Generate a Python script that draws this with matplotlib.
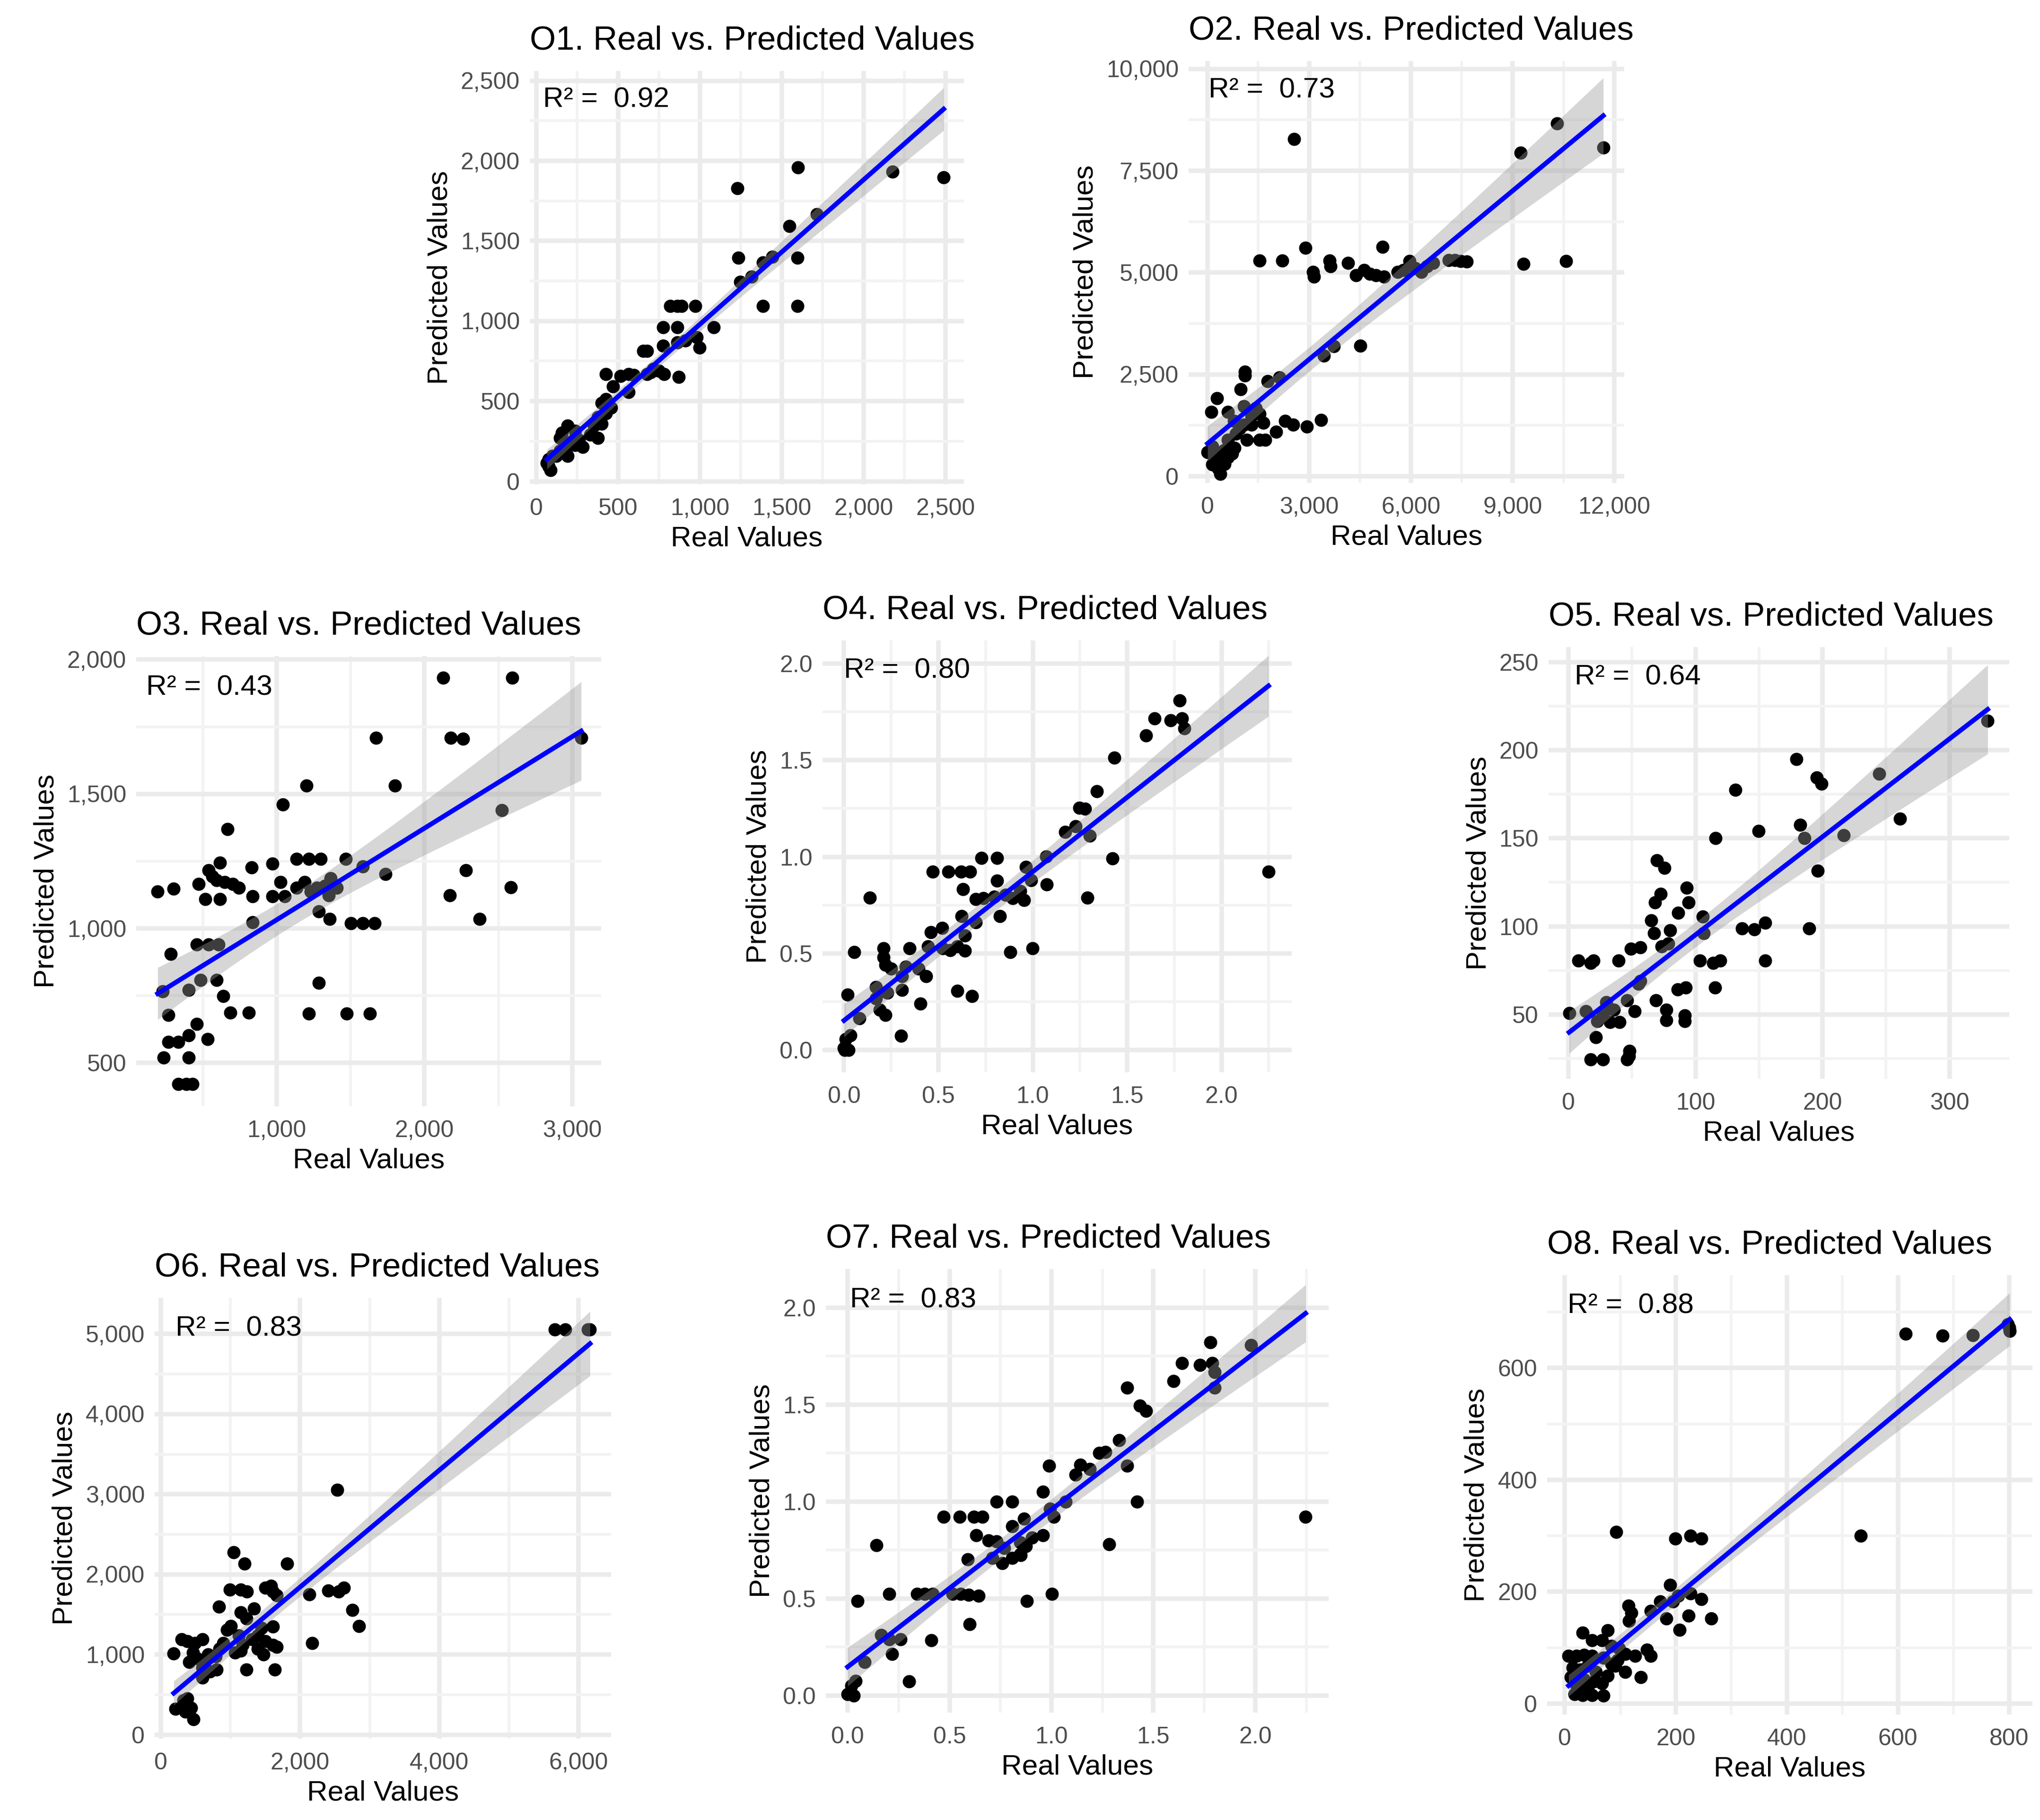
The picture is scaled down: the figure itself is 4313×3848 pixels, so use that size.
import numpy as np
import matplotlib.pyplot as plt
from matplotlib.ticker import FixedLocator, FuncFormatter, MultipleLocator

plt.rcParams['font.family'] = ['Liberation Sans', 'DejaVu Sans']

# ---- data (real, predicted) ----
o1_real = [1600, 1229, 2178, 2489, 1713, 1546, 1234, 1597, 1384, 1442, 1245, 1315, 1384, 1597, 817, 863, 887,
           972, 776, 863, 1083, 776, 863, 910, 979, 998, 655, 678, 782, 870, 424, 516, 563, 597, 678, 701, 748,
           713, 470, 563, 424, 400, 458, 424, 377, 400, 354, 192, 238, 157, 146, 262, 331, 377, 180, 238, 215,
           146, 123, 192, 180, 76, 65, 76, 88, 100, 238, 285]
o1_pred = [1958, 1829, 1933, 1896, 1668, 1593, 1394, 1394, 1365, 1402, 1243, 1276, 1095, 1095, 1095, 1095, 1095,
           1095, 960, 960, 960, 845, 867, 878, 900, 834, 812, 812, 668, 652, 668, 657, 668, 664, 668, 680, 690,
           700, 591, 557, 513, 490, 458, 425, 400, 358, 347, 347, 314, 303, 270, 259, 292, 270, 203, 226, 248,
           192, 159, 159, 181, 137, 115, 93, 71, 159, 270, 215]

o2_real = [2558, 10314, 9233, 11674, 2895, 5163, 1535, 2209, 3605, 3628, 4151, 3105, 3140, 4384, 4616, 4791,
           4965, 5198, 5605, 5779, 5954, 6128, 6302, 6477, 6651, 7116, 7291, 7465, 7640, 9326, 10570, 4512, 3721,
           3430, 1105, 1105, 977, 1767, 2116, 279, 116, 605, 1070, 1419, 1535, 1651, 1070, 1302, 2291, 2523,
           2930, 3349, 2023, 1535, 1709, 1163, 0, 663, 605, 372, 140, 314, 372, 256, 488, 721, 837, 954, 1302,
           779, 140, 198, 330, 500, 600, 800]
o2_pred = [8277, 8661, 7938, 8072, 5607, 5634, 5295, 5295, 5295, 5152, 5241, 5018, 4902, 4929, 5063, 4973,
           4929, 4902, 5018, 5063, 5286, 5107, 5018, 5152, 5241, 5304, 5304, 5286, 5268, 5214, 5286, 3205, 3188,
           2964, 2563, 2473, 2143, 2339, 2429, 1911, 1580, 1580, 1714, 1670, 1536, 1313, 1268, 1268, 1357, 1268,
           1223, 1384, 1089, 893, 893, 893, 598, 714, 464, 375, 286, 196, 62, 554, 643, 554, 1045, 1179, 1491,
           1357, 732, 420, 480, 300, 900, 700]

o3_real = [2125, 2593, 3060, 1672, 2179, 2260, 1203, 1800, 1041, 2523, 669, 615, 973, 1136, 1217, 1298, 1466,
           832, 1583, 1737, 2279, 539, 566, 593, 647, 702, 743, 195, 304, 472, 518, 615, 837, 973, 1027, 1054,
           1136, 1190, 1230, 1271, 1325, 1366, 1352, 1407, 2585, 2171, 1285, 1358, 837, 1501, 1583, 1664, 2374,
           282, 458, 539, 607, 485, 593, 404, 228, 1285, 640, 688, 810, 1217, 1474, 1629, 268, 458, 404, 268,
           336, 534, 236, 404, 336, 390, 431]
o3_pred = [1932, 1932, 1708, 1708, 1708, 1705, 1532, 1532, 1461, 1440, 1370, 1244, 1241, 1259, 1259, 1259, 1259,
           1227, 1230, 1202, 1216, 1216, 1194, 1180, 1173, 1166, 1152, 1137, 1147, 1166, 1109, 1109, 1120, 1120,
           1173, 1120, 1152, 1173, 1137, 1152, 1159, 1187, 1123, 1152, 1154, 1123, 1063, 1035, 1023, 1020, 1020,
           1020, 1035, 905, 941, 941, 941, 809, 809, 771, 767, 798, 748, 688, 688, 684, 684, 684, 678, 645, 603,
           578, 578, 588, 520, 520, 422, 422, 422]

o4_real = [1.779, 1.644, 1.730, 1.791, 1.804, 1.599, 1.433, 1.339, 1.247, 1.276, 1.172, 1.227, 1.301, 1.423,
           1.071, 2.249, 1.290, 0.728, 0.810, 0.470, 0.552, 0.620, 0.669, 0.963, 0.810, 0.630, 0.992, 1.074,
           0.137, 0.699, 0.738, 0.796, 0.855, 0.894, 0.953, 0.933, 0.826, 0.624, 0.640, 0.699, 0.519, 0.460,
           0.444, 0.346, 0.523, 0.562, 0.601, 0.640, 0.881, 0.998, 0.053, 0.209, 0.209, 0.219, 0.249, 0.327,
           0.395, 0.434, 0.307, 0.170, 0.229, 0.307, 0.601, 0.679, 0.018, 0.405, 0.190, 0.219, 0.082, 0.301,
           0.033, 0.010, 0.0, 0.023, 0.004, 0.170]
o4_pred = [1.809, 1.717, 1.707, 1.717, 1.665, 1.627, 1.512, 1.340, 1.254, 1.248, 1.129, 1.158, 1.110, 0.991,
           1.001, 0.924, 0.789, 0.995, 0.995, 0.924, 0.924, 0.924, 0.924, 0.947, 0.877, 0.833, 0.880, 0.857,
           0.789, 0.781, 0.785, 0.794, 0.804, 0.785, 0.775, 0.823, 0.693, 0.693, 0.593, 0.660, 0.632, 0.609,
           0.536, 0.526, 0.526, 0.517, 0.536, 0.513, 0.507, 0.526, 0.507, 0.526, 0.479, 0.440, 0.421, 0.431,
           0.421, 0.383, 0.383, 0.325, 0.297, 0.310, 0.306, 0.278, 0.287, 0.239, 0.207, 0.182, 0.163, 0.073,
           0.077, 0.057, 0.010, 0.0, 0.0, 0.268]

o5_real = [330, 179.4, 195.6, 199.1, 131.5, 244.7, 260.9, 182.3, 185.9, 149.7, 115.9, 216.8, 196.2, 69.7, 75.6,
           93.2, 94.7, 72.6, 68.2, 86.5, 65.3, 67.6, 80.0, 105.9, 106.5, 189.4, 136.5, 146.2, 155.0, 49.1, 56.5,
           73.5, 78.5, 7.9, 17.6, 19.7, 39.4, 103.5, 113.8, 119.7, 155.0, 85.9, 92.3, 115.3, 55.0, 56.5, 68.8,
           77.1, 77.1, 91.8, 91.8, 46.2, 52.1, 0.6, 13.8, 27.1, 30.0, 35.9, 22.6, 32.9, 40.3, 21.8, 17.6, 27.1,
           46.2, 48.2, 47.6]
o5_pred = [216.7, 195.0, 184.4, 181.0, 177.6, 186.5, 161.2, 157.6, 150.2, 154.0, 150.2, 151.7, 131.7, 137.5,
           133.2, 122.0, 113.7, 118.4, 113.7, 107.7, 103.5, 96.1, 97.6, 105.6, 96.1, 98.8, 98.8, 98.2, 102.0,
           87.2, 88.0, 88.6, 90.1, 80.6, 79.1, 80.6, 80.6, 80.6, 79.1, 80.6, 80.6, 64.2, 65.3, 65.3, 67.4, 68.9,
           57.9, 52.5, 46.8, 49.4, 46.2, 57.9, 51.9, 50.8, 51.9, 50.4, 56.8, 52.5, 46.2, 45.5, 45.5, 37.0, 24.3,
           24.3, 24.3, 29.2, 26.4]

o6_real = [5660, 5808, 6137, 6164, 2534, 1047, 1201, 1815, 992, 1146, 1239, 1503, 1613, 1585, 1667, 2133, 2407,
           2556, 2627, 2753, 2846, 2172, 834, 1146, 1338, 1228, 1009, 954, 1448, 1613, 1393, 1311, 1503, 1667,
           1612, 1475, 1393, 1146, 1119, 899, 845, 790, 680, 625, 598, 488, 296, 378, 186, 461, 515, 406, 598,
           801, 1228, 1640, 598, 707, 214, 324, 378, 433, 351, 472, 1064, 1174]
o6_pred = [5057, 5057, 5057, 5057, 3057, 2276, 2133, 2133, 1810, 1810, 1786, 1833, 1786, 1857, 1738, 1748, 1795,
           1786, 1833, 1557, 1357, 1143, 1595, 1524, 1571, 1452, 1357, 1309, 1333, 1348, 1238, 1190, 1167, 1095,
           1119, 1000, 1071, 1048, 1238, 1143, 1071, 976, 1000, 929, 1190, 1143, 1190, 1167, 1014, 1024, 952, 905,
           833, 810, 810, 810, 714, 786, 319, 429, 452, 333, 286, 190, 1024, 1119]

o7_real = [1.780, 1.979, 1.640, 1.728, 1.790, 1.800, 1.800, 1.599, 1.372, 1.434, 1.465, 1.333, 1.235, 1.265,
           1.119, 1.142, 1.187, 1.372, 0.988, 0.959, 1.420, 1.070, 2.247, 1.284, 0.730, 0.807, 0.471, 0.549,
           0.619, 0.661, 1.012, 0.992, 0.866, 0.807, 0.632, 0.959, 0.905, 0.142, 0.691, 0.730, 0.846, 0.875,
           0.768, 0.846, 0.589, 0.710, 0.759, 0.807, 0.850, 0.204, 0.340, 0.379, 0.418, 0.516, 0.554, 0.593,
           0.642, 1.002, 0.049, 0.879, 0.599, 0.165, 0.204, 0.259, 0.410, 0.218, 0.084, 0.302, 0.039, 0.019,
           0.0, 0.029]
o7_pred = [1.822, 1.808, 1.714, 1.706, 1.714, 1.669, 1.587, 1.622, 1.587, 1.495, 1.469, 1.316, 1.250, 1.256,
           1.138, 1.189, 1.169, 1.185, 1.185, 1.050, 0.999, 0.999, 0.923, 0.780, 0.999, 0.999, 0.923, 0.923,
           0.923, 0.923, 0.923, 0.964, 0.913, 0.872, 0.827, 0.827, 0.815, 0.776, 0.801, 0.795, 0.791, 0.770,
           0.760, 0.729, 0.703, 0.709, 0.684, 0.709, 0.725, 0.525, 0.525, 0.525, 0.525, 0.525, 0.525, 0.519,
           0.515, 0.525, 0.488, 0.488, 0.368, 0.311, 0.290, 0.290, 0.284, 0.215, 0.172, 0.072, 0.076, 0.051,
           0.008, 0.0]

o8_real = [614, 680, 735, 800, 801, 798, 533, 93, 199, 226, 246, 190, 195, 204, 226, 246, 172, 115, 120, 155,
           116, 183, 223, 264, 207, 32, 77, 49, 67, 84, 98, 109, 127, 148, 155, 7, 21, 35, 49, 70, 95, 91, 109,
           77, 137, 14, 28, 42, 56, 11, 35, 53, 67, 18, 32, 49, 70, 84, 21, 42]
o8_pred = [661, 658, 659, 672, 666, 678, 300, 307, 295, 300, 295, 212, 183, 193, 197, 187, 183, 175, 162, 166,
           148, 152, 157, 152, 132, 127, 131, 113, 113, 103, 99, 89, 85, 96, 85, 85, 85, 87, 85, 82, 78, 68, 57,
           50, 47, 64, 61, 68, 57, 47, 43, 40, 36, 17, 15, 15, 14, 71, 33, 29]

titles = ['O1. Real vs. Predicted Values', 'O2. Real vs. Predicted Values', 'O3. Real vs. Predicted Values',
          'O4. Real vs. Predicted Values', 'O5. Real vs. Predicted Values', 'O6. Real vs. Predicted Values',
          'O7. Real vs. Predicted Values', 'O8. Real vs. Predicted Values']
r2_labels = ['0.92', '0.73', '0.43', '0.80', '0.64', '0.83', '0.83', '0.88']

# fitted line (intercept, slope)
fit_intercept = [78.4, 805, 691.5, 0.153, 39.5, 382, 0.148, 26.4]
fit_slope = [0.9018, 0.6892, 0.3407, 0.770, 0.5566, 0.7296, 0.8114, 0.8245]

x_ticks = [[0, 500, 1000, 1500, 2000, 2500], [0, 3000, 6000, 9000, 12000], [1000, 2000, 3000],
           [0, 0.5, 1.0, 1.5, 2.0], [0, 100, 200, 300], [0, 2000, 4000, 6000],
           [0, 0.5, 1.0, 1.5, 2.0], [0, 200, 400, 600, 800]]
y_ticks = [[0, 500, 1000, 1500, 2000, 2500], [0, 2500, 5000, 7500, 10000], [500, 1000, 1500, 2000],
           [0, 0.5, 1.0, 1.5, 2.0], [50, 100, 150, 200, 250], [0, 1000, 2000, 3000, 4000, 5000],
           [0, 0.5, 1.0, 1.5, 2.0], [0, 200, 400, 600]]

reals = [o1_real, o2_real, o3_real, o4_real, o5_real, o6_real, o7_real, o8_real]
preds = [o1_pred, o2_pred, o3_pred, o4_pred, o5_pred, o6_pred, o7_pred, o8_pred]

# ---- layout (pixel boxes: left, top, right, bottom) and axis limits ----
W, H = 4313, 3848
boxes = [(1120, 150, 2038, 1024), (2513, 129, 3434, 1021),
         (288, 1387, 1271, 2339), (1739, 1354, 2731, 2267), (3274, 1368, 4248, 2281),
         (327, 2744, 1292, 3676), (1746, 2683, 2809, 3621), (3271, 2696, 4297, 3625)]
xlims = [(-40, 2613), (-558, 12293), (50, 3195), (-0.114, 2.372), (-15.6, 347), (-88, 6467),
         (-0.107, 2.36), (-31.6, 842)]
ylims = [(-19, 2561), (-161, 10193), (339, 2013), (-0.115, 2.12), (13.4, 258.6), (-50, 5451),
         (-0.088, 2.2), (-19.5, 766)]
r2_xpos = [0.03, 0.046, 0.021, 0.045, 0.056, 0.046, 0.048, 0.042]


def tick_fmt(decimal):
    if decimal:
        return FuncFormatter(lambda v, p: f'{v:.1f}')
    return FuncFormatter(lambda v, p: f'{int(round(v)):,}')


fig = plt.figure(figsize=(W / 300, H / 300), dpi=300)
fig.patch.set_facecolor('white')

for i in range(8):
    l, t, r, b = boxes[i]
    ax = fig.add_axes([l / W, 1 - b / H, (r - l) / W, (b - t) / H])
    x = np.array(reals[i], dtype=float)
    y = np.array(preds[i], dtype=float)

    ax.scatter(x, y, s=45, color='black', linewidths=0, zorder=3)

    # linear fit with 95% confidence band
    xs = np.linspace(x.min(), x.max(), 200)
    ys = fit_intercept[i] + fit_slope[i] * xs
    n = len(x)
    resid = y - (fit_intercept[i] + fit_slope[i] * x)
    s = np.sqrt(np.sum(resid ** 2) / (n - 2))
    sxx = np.sum((x - x.mean()) ** 2)
    hw = 1.98 * s * np.sqrt(1 / n + (xs - x.mean()) ** 2 / sxx)
    ax.fill_between(xs, ys - hw, ys + hw, color='#999999', alpha=0.4, linewidth=0, zorder=4)
    ax.plot(xs, ys, color='#0000FF', linewidth=2.4, zorder=5)

    ax.set_xlim(*xlims[i])
    ax.set_ylim(*ylims[i])
    xt, yt = x_ticks[i], y_ticks[i]
    ax.xaxis.set_major_locator(FixedLocator(xt))
    ax.yaxis.set_major_locator(FixedLocator(yt))
    ax.xaxis.set_minor_locator(MultipleLocator((xt[1] - xt[0]) / 2))
    ax.yaxis.set_minor_locator(MultipleLocator((yt[1] - yt[0]) / 2))
    ax.xaxis.set_major_formatter(tick_fmt(xt[1] - xt[0] < 1))
    ax.yaxis.set_major_formatter(tick_fmt(yt[1] - yt[0] < 1))

    ax.grid(which='major', color='#EBEBEB', linewidth=2.3, zorder=0)
    ax.grid(which='minor', color='#F3F3F3', linewidth=1.4, zorder=0)
    ax.set_axisbelow(True)
    for sp in ax.spines.values():
        sp.set_visible(False)
    ax.tick_params(which='both', length=0)
    ax.tick_params(axis='x', labelsize=12, labelcolor='#4D4D4D', pad=7)
    ax.tick_params(axis='y', labelsize=12, labelcolor='#4D4D4D', pad=5)

    ax.set_xlabel('Real Values', fontsize=14.5, labelpad=3)
    ax.set_ylabel('Predicted Values', fontsize=14.5, labelpad=4)
    ax.set_title(titles[i], fontsize=17, loc='left', pad=11)
    ax.text(r2_xpos[i], 0.93, 'R² =  ' + r2_labels[i], transform=ax.transAxes,
            fontsize=14.5, ha='left', va='center', zorder=6)

fig.savefig('out.png', dpi=300, facecolor='white')
